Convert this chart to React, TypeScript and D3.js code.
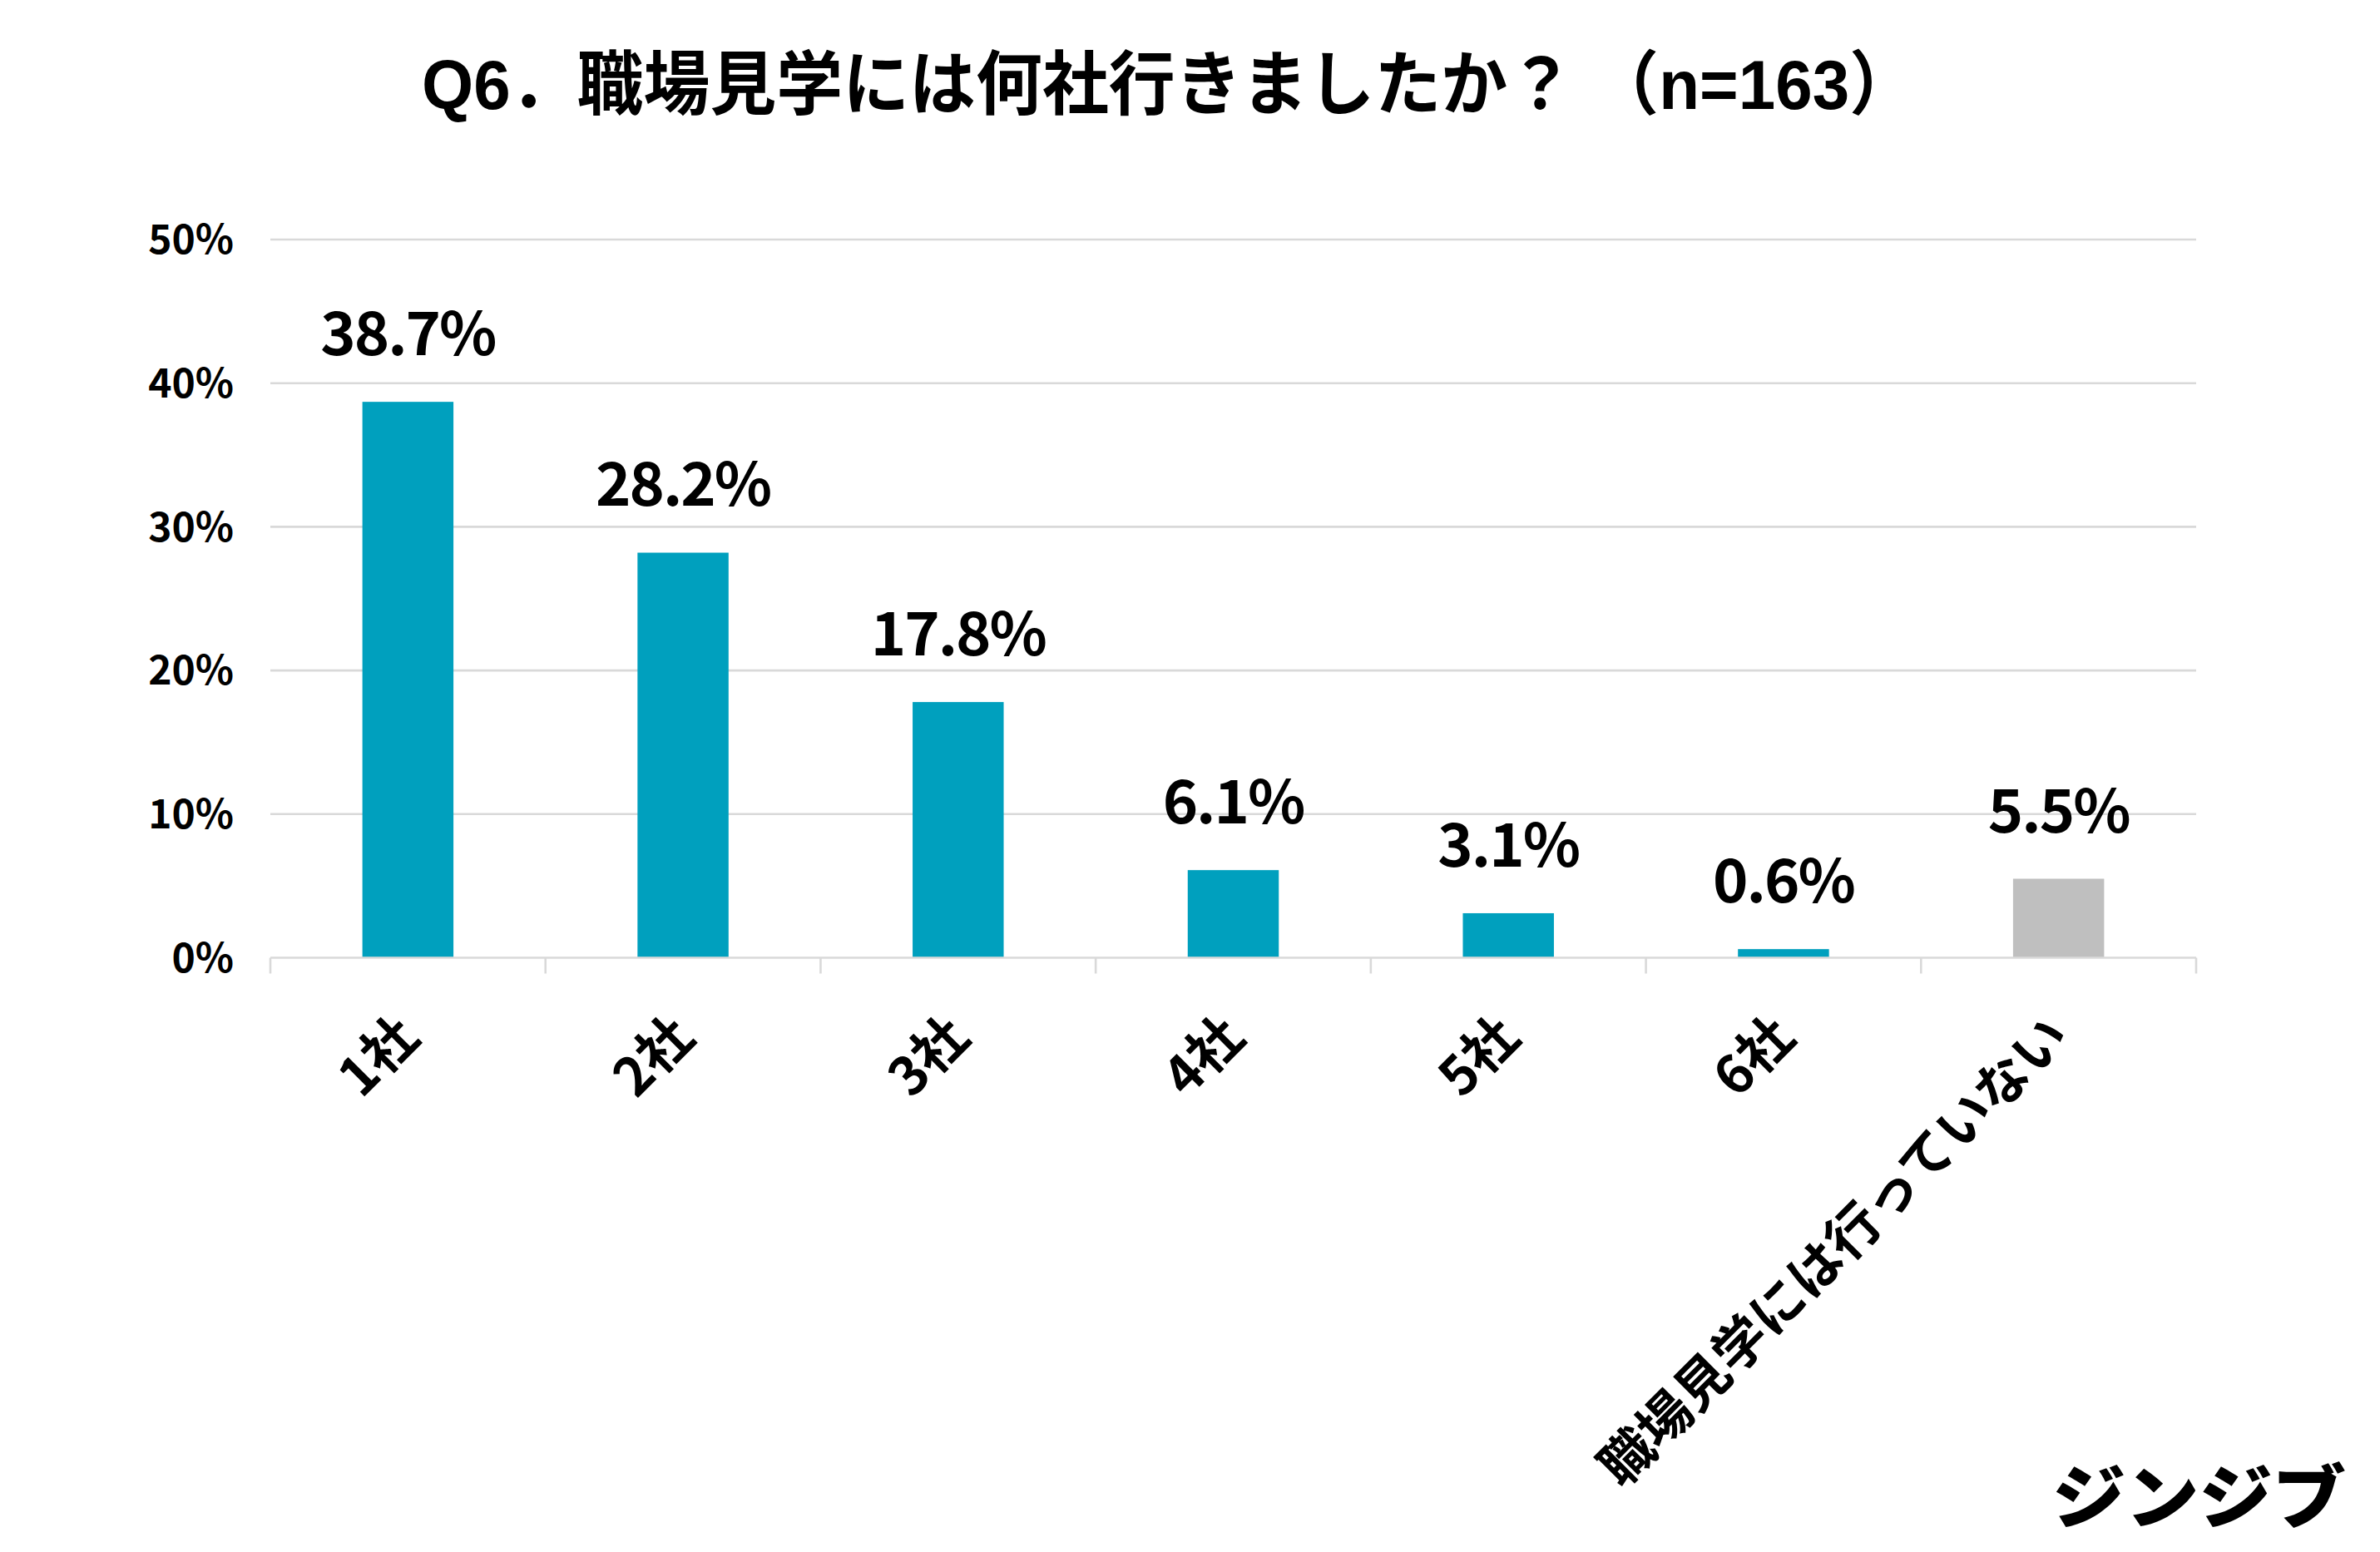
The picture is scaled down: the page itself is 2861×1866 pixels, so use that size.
import React from "react";
import * as d3 from "d3";

const categories = ["1社", "2社", "3社", "4社", "5社", "6社", "職場見学には行っていない"];
const values = [38.7, 28.2, 17.8, 6.1, 3.1, 0.6, 5.5];
const barColors = ["#00A0BE", "#00A0BE", "#00A0BE", "#00A0BE", "#00A0BE", "#00A0BE", "#BFBFBF"];
const yTicks = [0, 10, 20, 30, 40, 50];
const title = "Q6．職場見学には何社行きましたか？ （n=163）";
const logo = "ジンジブ";

const W = 2861;
const H = 1866;
const left = 325;
const right = 2640;
const y0 = 1151.5;
const y50 = 288;

export default function App() {
  const x = d3
    .scaleBand<string>()
    .domain(categories)
    .range([left, right])
    .paddingInner(0.669)
    .paddingOuter(0.669 / 2);
  const y = d3.scaleLinear().domain([0, 50]).range([y0, y50]);
  const step = x.step();
  const boundaries = d3.range(categories.length + 1).map((i) => left + i * step);
  const cjk = "'Noto Sans CJK JP', 'Noto Sans', sans-serif";
  const titleFont = "'Liberation Sans', Arial, 'Noto Sans CJK JP', sans-serif";

  return (
    <svg
      width={W}
      height={H}
      viewBox={`0 0 ${W} ${H}`}
      style={{ position: "absolute", left: 0, top: 0, display: "block", background: "#fff" }}
    >
      <rect x={0} y={0} width={W} height={H} fill="#fff" />
      <text
        x={507}
        y={131}
        textLength={1796}
        lengthAdjust="spacingAndGlyphs"
        fontFamily={titleFont}
        fontWeight="bold"
        fontSize={84}
        fill="#000"
      >
        {title}
      </text>

      {yTicks.map((t) =>
        t === 0 ? null : (
          <line key={"g" + t} x1={left} x2={right} y1={y(t)} y2={y(t)} stroke="#D9D9D9" strokeWidth={2.6} />
        )
      )}
      {yTicks.map((t) => (
        <text
          key={"yt" + t}
          x={281}
          y={y(t)}
          dy="0.36em"
          textAnchor="end"
          fontFamily={cjk}
          fontWeight="bold"
          fontSize={48}
          fill="#000"
        >
          {t + "%"}
        </text>
      ))}

      {categories.map((c, i) => (
        <rect
          key={"b" + c}
          x={x(c)}
          y={y(values[i])}
          width={x.bandwidth()}
          height={y(0) - y(values[i])}
          fill={barColors[i]}
        />
      ))}

      <line x1={left} x2={right} y1={y0} y2={y0} stroke="#D9D9D9" strokeWidth={2.6} />
      {boundaries.map((bx, i) => (
        <line key={"tk" + i} x1={bx} x2={bx} y1={y0} y2={y0 + 19} stroke="#D9D9D9" strokeWidth={2.6} />
      ))}

      {categories.map((c, i) => (
        <text
          key={"v" + c}
          x={(x(c) as number) + x.bandwidth() / 2}
          y={y(values[i]) - 56}
          textAnchor="middle"
          fontFamily={cjk}
          fontWeight="bold"
          fontSize={72}
          letterSpacing={-2}
          fill="#000"
        >
          {values[i].toFixed(1) + "%"}
        </text>
      ))}

      {categories.map((c) => {
        const cx = (x(c) as number) + x.bandwidth() / 2;
        return (
          <text
            key={"xl" + c}
            transform={`translate(${cx + 16},${1250}) rotate(-45)`}
            textAnchor="end"
            fontFamily={cjk}
            fontWeight="bold"
            fontSize={64}
            fill="#000"
          >
            {c}
          </text>
        );
      })}

      <text
        x={2467}
        y={1831}
        textLength={353}
        lengthAdjust="spacingAndGlyphs"
        fontFamily={cjk}
        fontWeight={900}
        fontSize={84}
        fill="#000"
      >
        {logo}
      </text>
    </svg>
  );
}
